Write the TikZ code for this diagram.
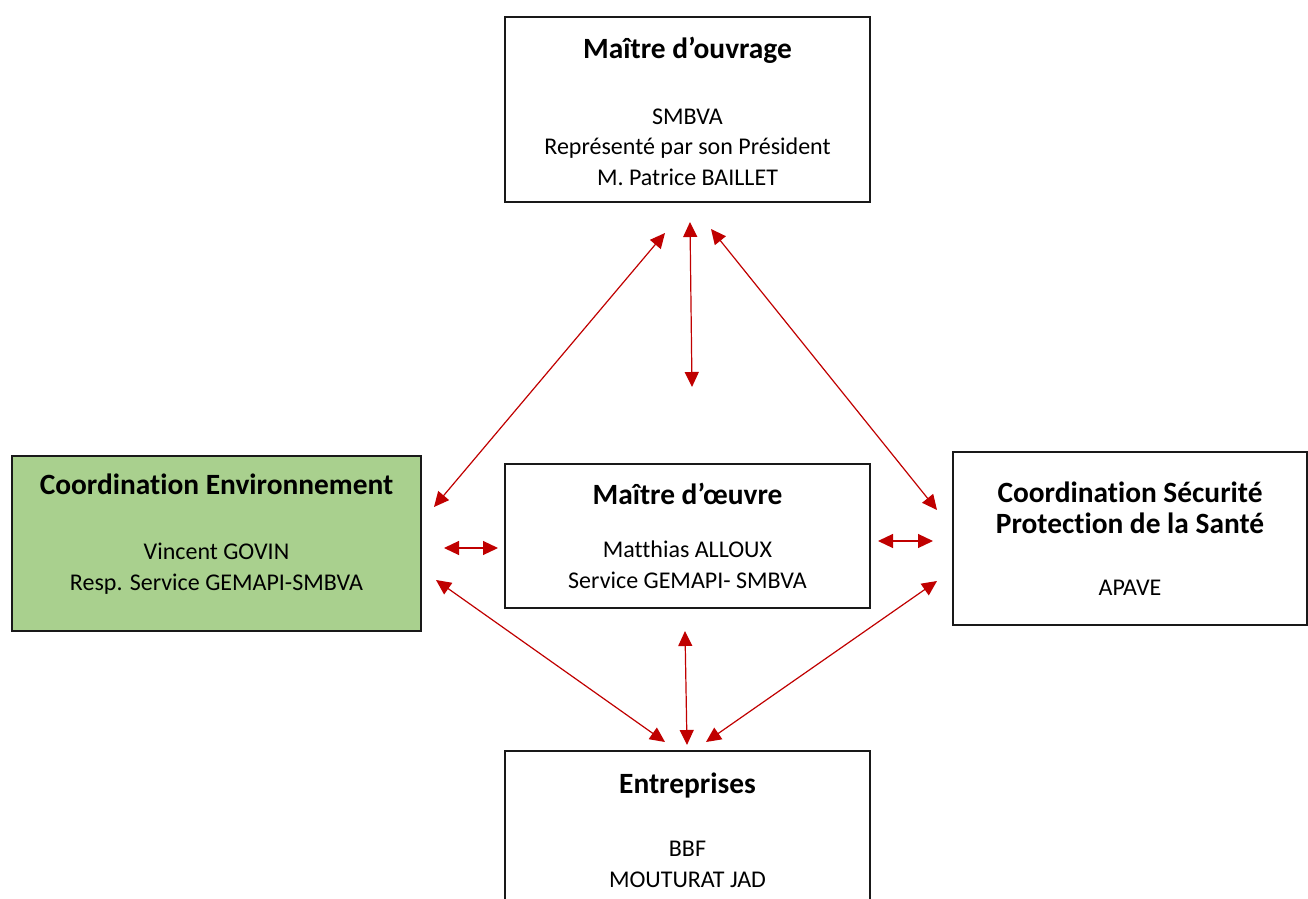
\documentclass[tikz,border=0pt]{standalone}
\usepackage{fontspec}
\setmainfont{Carlito}[Ligatures=CommonOff]
\usetikzlibrary{arrows.meta}
\definecolor{rougefleche}{HTML}{C00000}
\definecolor{vertenv}{HTML}{A9D08E}
\newcommand{\titre}[1]{{\fontsize{14.7}{16}\selectfont\bfseries #1}}

\begin{document}
\begin{tikzpicture}[x=0.5pt,y=-0.5pt,
  boite/.style={draw=black!90,line width=0.75pt,inner sep=0pt},
  texte/.style={align=center,anchor=base,inner sep=0pt,font=\fontsize{12}{15.25}\selectfont},
  lien/.style={{Triangle[length=7.5pt,width=7pt]}-{Triangle[length=7.5pt,width=7pt]},draw=rougefleche,line width=0.6pt}]
  \useasboundingbox (0,0) rectangle (1308,899);

  % boites
  \node[boite,minimum width=182.5pt,minimum height=92.5pt] (ouvrage) at (687.5,109.5) {};
  \node[boite,minimum width=182.5pt,minimum height=72pt] (oeuvre) at (687.5,536) {};
  \node[boite,fill=vertenv,minimum width=204.5pt,minimum height=87.5pt] (envir) at (216.5,543.5) {};
  \node[boite,minimum width=177pt,minimum height=86.5pt] (secu) at (1130,538.5) {};
  \node[boite,minimum width=182.5pt,minimum height=100pt] (entr) at (687.5,851) {};

  % textes (ancre sur la ligne du bas)
  \node[texte] (ouvrageTxt) at (687.5,185) {\titre{Maître d’ouvrage}\\[17.5pt]SMBVA\\Représenté par son Président\\M. Patrice BAILLET};
  \node[texte] (oeuvreTxt) at (687.5,588) {\titre{Maître d’œuvre}\\[11.5pt]Matthias ALLOUX\\Service GEMAPI- SMBVA};
  \node[texte] (envirTxt) at (216.5,590) {\titre{Coordination Environnement}\\[17.5pt]Vincent GOVIN\\Resp. Service GEMAPI-SMBVA};
  \node[texte] (secuTxt) at (1130,595) {\titre{Coordination Sécurité}\\[0.5pt]\titre{Protection de la Santé}\\[15.5pt]APAVE};
  \node[texte] (entrTxt) at (687.5,887) {\titre{Entreprises}\\[16.5pt]BBF\\MOUTURAT JAD};

  % extremites des fleches
  \coordinate (ouvSO) at (665,233);
  \coordinate (ouvS) at (690,222);
  \coordinate (ouvSE) at (711,229);
  \coordinate (envN) at (434,507);
  \coordinate (envE) at (444,548);
  \coordinate (envS) at (436,580);
  \coordinate (oeuN) at (692,387);
  \coordinate (oeuW) at (498,548);
  \coordinate (oeuE) at (878,541);
  \coordinate (oeuS) at (685,631);
  \coordinate (secN) at (937,510);
  \coordinate (secW) at (933,541);
  \coordinate (secS) at (937,581);
  \coordinate (entNO) at (665,742);
  \coordinate (entN) at (687,745);
  \coordinate (entNE) at (706,742);

  % fleches
  \draw[lien] (ouvSO) -- (envN);
  \draw[lien] (ouvS) -- (oeuN);
  \draw[lien] (ouvSE) -- (secN);
  \draw[lien] (envE) -- (oeuW);
  \draw[lien] (oeuE) -- (secW);
  \draw[lien] (envS) -- (entNO);
  \draw[lien] (oeuS) -- (entN);
  \draw[lien] (secS) -- (entNE);
\end{tikzpicture}
\end{document}
